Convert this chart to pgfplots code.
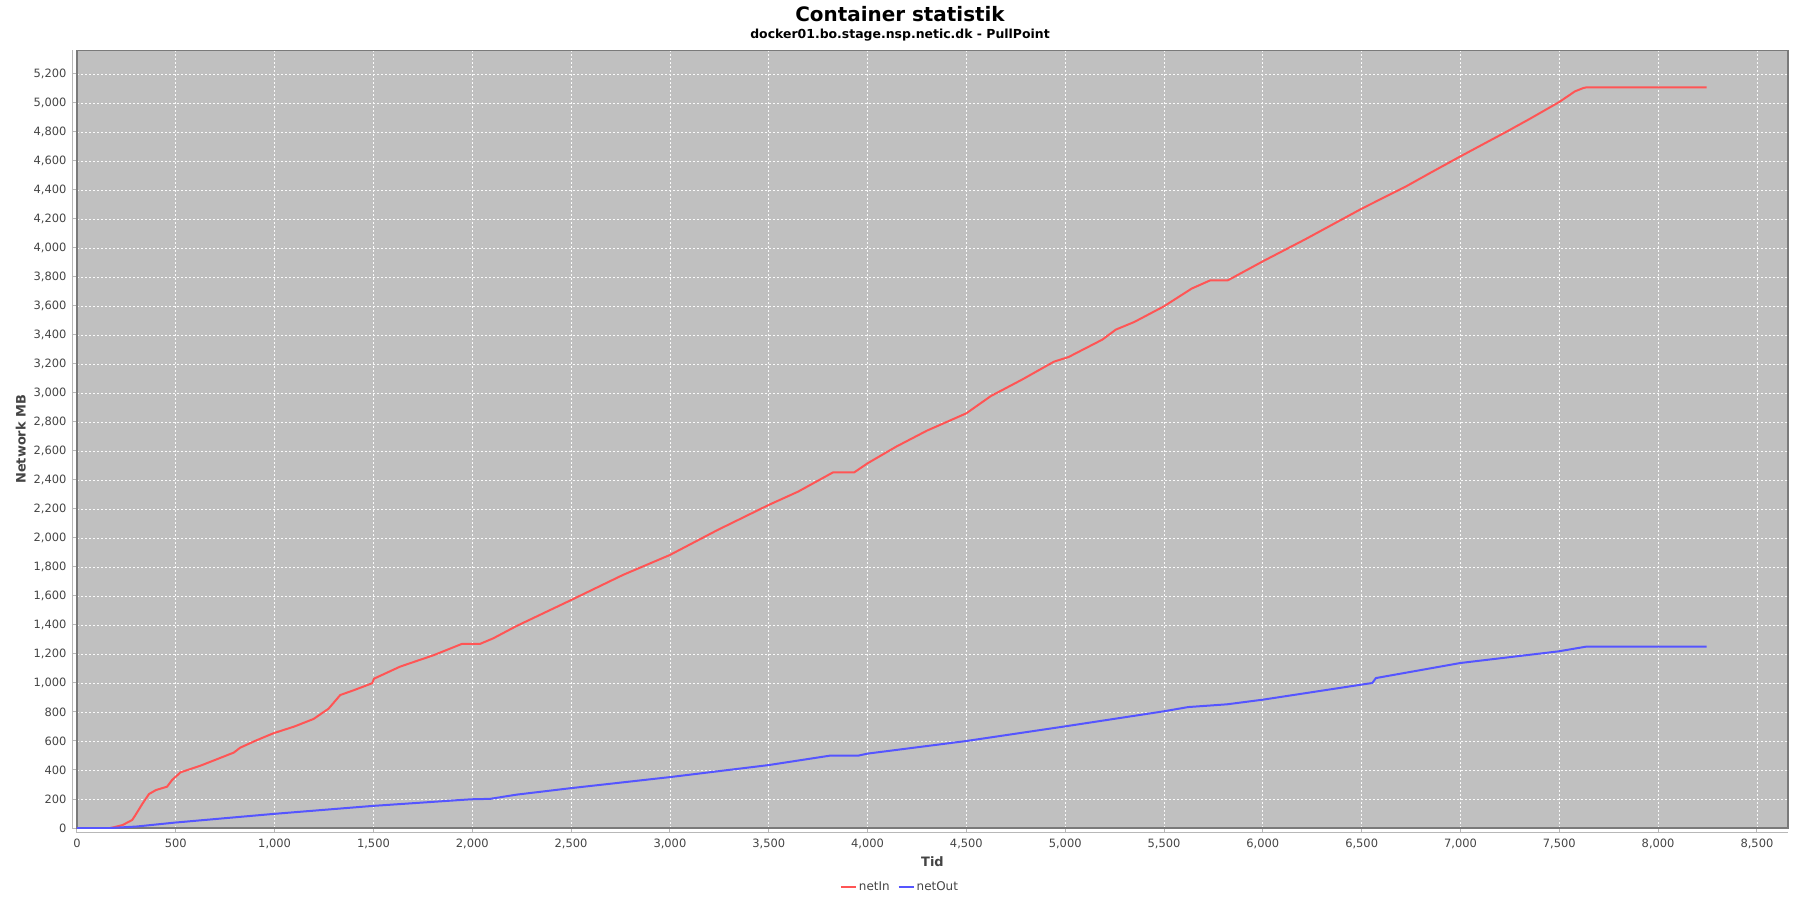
\documentclass[border=0pt]{standalone}
\usepackage{pgfplots}
\pgfplotsset{compat=1.18}
\usepackage{fontspec}
\setmainfont{DejaVu Sans}
\definecolor{plotbg}{HTML}{C0C0C0}
\definecolor{netin}{HTML}{FF5555}
\definecolor{netout}{HTML}{5555FF}
\definecolor{ticktext}{HTML}{444444}
\definecolor{frame}{HTML}{7A7A7A}
\definecolor{axisline}{HTML}{B8B8B8}
\begin{document}
\begin{tikzpicture}
\useasboundingbox (-77bp,-72bp) rectangle (1723bp,828bp);
\begin{axis}[
  at={(0,0)}, anchor=south west,
  scale only axis,
  width=1711bp, height=777.5bp,
  xmin=0, xmax=8657, ymin=0, ymax=5362,
  axis background/.style={fill=plotbg},
  axis line style={draw=frame, line width=1.2bp},
  xtick={0,500,...,8500},
  ytick={0,200,...,5200},
  grid=major,
  major grid style={white!92!plotbg, line width=0.8bp, dash pattern=on 2bp off 2bp},
  tick align=outside,
  major tick length=5bp,
  tick style={axisline, line width=1bp},
  xtick pos=bottom, ytick pos=left,
  /pgf/number format/1000 sep={,},
  /pgf/number format/assume math mode=true,
  tick label style={font=\fontsize{11.5}{13}\selectfont, text=ticktext},
  xticklabel style={yshift=-2bp},
  yticklabel style={xshift=-2bp},
  every axis x label/.style={at={(axis description cs:0.5,-0.0437)}, anchor=center},
  every axis y label/.style={at={(axis description cs:-0.0329,0.5)}, rotate=90, anchor=center},
  label style={font=\fontsize{13}{15}\selectfont\bfseries, text=ticktext},
  xlabel={Tid}, ylabel={Network MB},
  legend columns=2,
  legend style={at={(axis description cs:0.481,-0.0759)}, anchor=center, draw=none, fill=none,
    font=\fontsize{12}{14}\selectfont, text=ticktext,
    /tikz/every even column/.append style={column sep=6bp}},
  legend image code/.code={\draw[#1] (0bp,0bp) -- (15bp,0bp);},
]
\addplot[netin, line width=2bp, line join=round] coordinates {
(0,0) (170,0) (230,20) (279,55) (296,90) (330,165) (364,234) (400,262) (456,285)
(481,331) (524,384) (625,430) (700,470) (793,520) (826,554) (900,600) (993,653)
(1100,700) (1197,752) (1273,823) (1332,917) (1400,950) (1493,998) (1503,1030)
(1635,1113) (1803,1191) (1946,1269) (2038,1269) (2106,1308) (2224,1393) (2500,1572)
(2762,1745) (3000,1883) (3241,2055) (3500,2228) (3649,2320) (3826,2453) (3933,2453)
(4000,2515) (4145,2630) (4300,2740) (4500,2860) (4624,2979) (4784,3094) (4943,3216)
(5017,3248) (5188,3368) (5256,3437) (5350,3490) (5500,3598) (5640,3720) (5734,3777)
(5823,3777) (6000,3908) (6212,4058) (6350,4160) (6500,4271) (6725,4425) (6850,4520)
(7000,4632) (7237,4805) (7350,4890) (7500,5007) (7579,5080) (7621,5103) (7635,5107)
(8245,5107)
};
\addlegendentry{netIn}
\addplot[netout, line width=2bp, line join=round] coordinates {
(0,0) (170,0) (300,10) (493,37) (993,97) (1493,152) (1993,198) (2090,201) (2224,230)
(2500,275) (3000,351) (3500,434) (3810,499) (3953,499) (4000,513) (4500,600)
(5000,701) (5500,805) (5622,834) (5819,853) (6000,885) (6500,989) (6554,1000)
(6572,1034) (7000,1138) (7495,1218) (7633,1250) (8245,1250)
};
\addlegendentry{netOut}
\end{axis}
\draw[axisline, line width=1bp] (0bp,-4bp) -- (1711bp,-4bp);
\draw[axisline, line width=1bp] (-4bp,0bp) -- (-4bp,777.5bp);
\node[font=\fontsize{20}{24}\selectfont\bfseries, text=black] at (823bp,814bp) {Container statistik};
\node[font=\fontsize{12.5}{14}\selectfont\bfseries, text=black] at (823bp,793bp) {docker01.bo.stage.nsp.netic.dk - PullPoint};
\end{tikzpicture}
\end{document}
